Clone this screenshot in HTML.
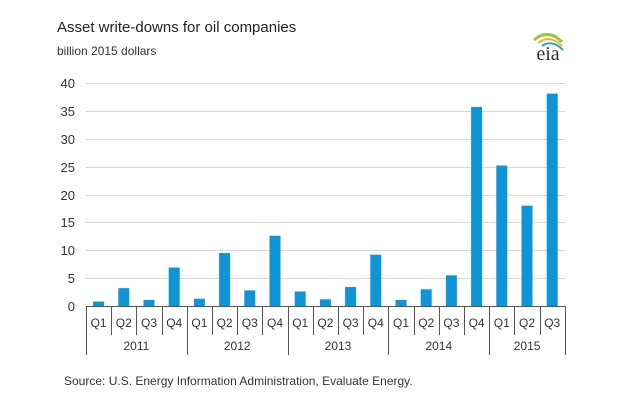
<!DOCTYPE html>
<html><head><meta charset="utf-8"><style>
html,body{margin:0;padding:0;background:#fff;width:623px;height:415px;overflow:hidden}
text{font-family:"Liberation Sans",sans-serif}
</style></head><body>
<svg width="623" height="415" xmlns="http://www.w3.org/2000/svg">
<text x="57" y="32" font-size="15" fill="#222">Asset write-downs for oil companies</text>
<text x="57" y="55" font-size="12" fill="#333">billion 2015 dollars</text>
<g stroke="#d8d8d8" stroke-width="1">
<line x1="86" x2="565" y1="83.5" y2="83.5"/><line x1="86" x2="565" y1="111.5" y2="111.5"/>
<line x1="86" x2="565" y1="139.5" y2="139.5"/><line x1="86" x2="565" y1="167.5" y2="167.5"/>
<line x1="86" x2="565" y1="195.5" y2="195.5"/><line x1="86" x2="565" y1="222.5" y2="222.5"/>
<line x1="86" x2="565" y1="250.5" y2="250.5"/><line x1="86" x2="565" y1="278.5" y2="278.5"/>
</g>
<g font-size="13" fill="#333" text-anchor="end">
<text x="75" y="88">40</text><text x="75" y="116">35</text><text x="75" y="144">30</text>
<text x="75" y="172">25</text><text x="75" y="200">20</text><text x="75" y="227">15</text>
<text x="75" y="255">10</text><text x="75" y="283">5</text><text x="75" y="311">0</text>
</g>
<g id="bars" fill="#0f95d6"></g>
<line x1="86" x2="565" y1="306.5" y2="306.5" stroke="#555"/>
<g id="ax" stroke="#555" stroke-width="1"></g>
<g id="lab" font-size="12" fill="#333" text-anchor="middle"></g>
<text x="64" y="385" font-size="12" fill="#333">Source:  U.S. Energy Information Administration, Evaluate Energy.</text>
<g transform="translate(548,50)">
<path d="M-14,-10 Q0,-22 14,-8" stroke="#9bc53d" stroke-width="3" fill="none"/>
<path d="M-10,-7 Q2,-16 14,-4" stroke="#f0b323" stroke-width="2" fill="none"/>
<path d="M-6,-4 Q4,-11 15,0" stroke="#2a9fd6" stroke-width="2" fill="none"/>
<text x="0" y="10" font-size="20" fill="#333" text-anchor="middle" style="font-family:'Liberation Serif',serif">eia</text>
</g>
</svg>
<script>
var v=[0.8,3.2,1.1,6.9,1.3,9.5,2.8,12.6,2.6,1.2,3.4,9.2,1.1,3.0,5.5,35.7,25.2,18,38.1];
var ns="http://www.w3.org/2000/svg",x0=86,w=25.2,y0=306,s=223/40;
function el(p,t,a,txt){var e=document.createElementNS(ns,t);for(var k in a)e.setAttribute(k,a[k]);if(txt)e.textContent=txt;document.getElementById(p).appendChild(e);}
v.forEach(function(d,i){var cx=x0+w*(i+0.5);el("bars","rect",{x:cx-5.5,y:y0-d*s,width:11,height:d*s});
el("lab","text",{x:cx,y:327},"Q"+(i%4+1));});
for(var i=0;i<=19;i++){var x=Math.round(x0+w*i)+0.5;var yr=(i%4==0)||i==19;el("ax","line",{x1:x,x2:x,y1:306,y2:yr?355:335});}
["2011","2012","2013","2014","2015"].forEach(function(y,j){var a=x0+w*4*j,b=Math.min(a+w*4,565);el("lab","text",{x:(a+b)/2,y:350},y);});
</script>
</body></html>
